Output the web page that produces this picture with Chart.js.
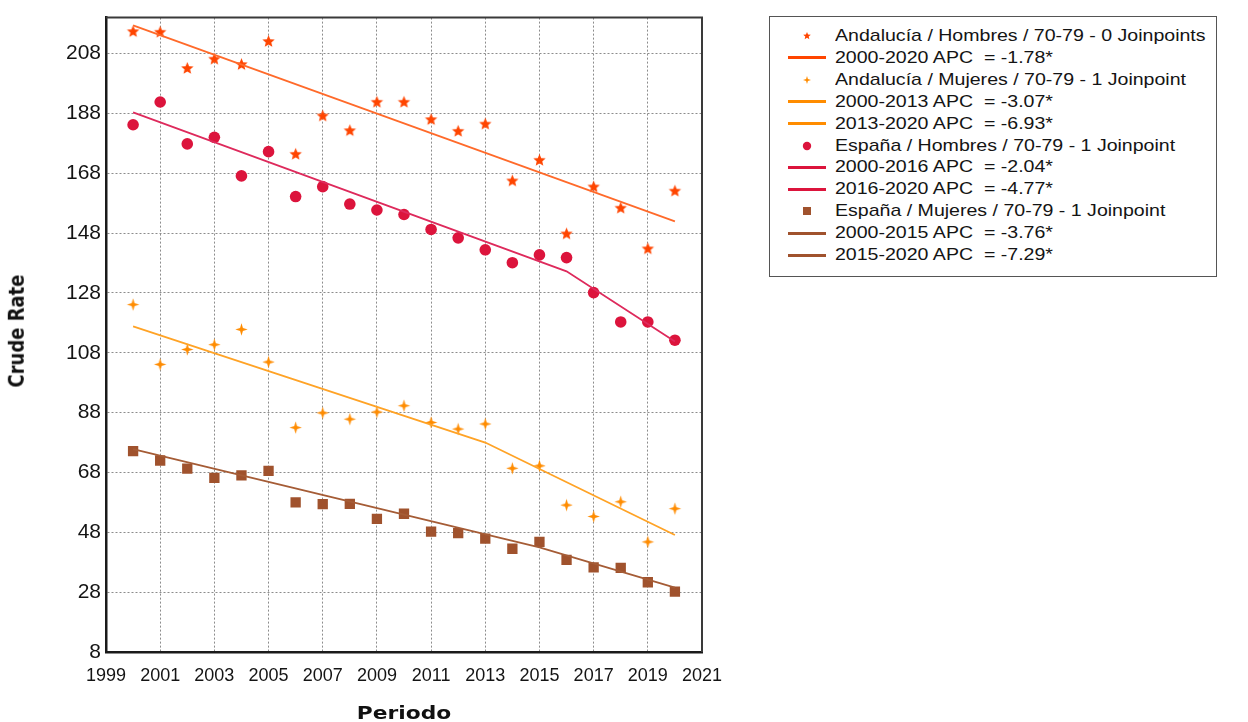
<!DOCTYPE html>
<html>
<head>
<meta charset="utf-8">
<script src="https://cdn.jsdelivr.net/npm/chart.js@4.4.1/dist/chart.umd.min.js"></script>
<style>
    body { margin:0; background:#fff; width:1248px; height:722px; overflow:hidden; position:relative;
           font-family:'Liberation Sans', Arial, sans-serif; }
    #wrap { position:absolute; left:0; top:0; width:1248px; height:722px; }
    #legend { position:absolute; left:769px; top:16px; width:448px; height:261px;
              border:1.5px solid #555; box-sizing:border-box; background:#fff; }
    .row { position:absolute; left:0; width:100%; height:22px; }
    .row .txt { position:absolute; left:65px; top:0; line-height:22px; font-size:17px; color:#141414;
                white-space:pre; transform:scaleX(1.15); transform-origin:0 50%; }
    .row .line { position:absolute; left:18px; top:9.5px; width:38px; height:3px; }
    .row canvas { position:absolute; left:31px; top:5px; }
    .axis-title { position:absolute; font-family:'DejaVu Sans', Verdana, sans-serif; font-weight:bold;
                  font-size:17px; color:#111; white-space:pre; line-height:20px; }
    #xTitle { left:404px; top:703px; transform:translateX(-50%) scaleX(1.28); }
    #yTitle { left:17px; top:331px; font-size:18px; transform:translate(-50%, -50%) rotate(-90deg) scaleY(1.2); }
</style>
</head>
<body>
<div id="wrap"><canvas id="myChart" width="1248" height="722"></canvas></div>
<div id="legend"></div>
<div class="axis-title" id="xTitle">Periodo</div>
<div class="axis-title" id="yTitle">Crude Rate</div>

<script>
// ============================================================
// Crude rate 70-79, Andalucía vs España, with joinpoint fits
// ============================================================

const years = [2000, 2001, 2002, 2003, 2004, 2005, 2006, 2007, 2008, 2009, 2010,
               2011, 2012, 2013, 2014, 2015, 2016, 2017, 2018, 2019, 2020];

const andHombres = [215.3, 215.1, 203.0, 206.1, 204.3, 212.0, 174.3, 187.1, 182.2, 191.7, 191.7,
                    185.9, 182.0, 184.4, 165.4, 172.3, 147.7, 163.4, 156.3, 142.7, 162.0];
const andMujeres = [124.1, 104.1, 109.1, 110.7, 115.8, 104.9, 83.0, 87.9, 85.8, 88.2, 90.3,
                    84.7, 82.5, 84.2, 69.4, 70.2, 57.1, 53.3, 58.2, 44.8, 55.9];
const espHombres = [184.2, 191.8, 177.8, 180.0, 167.1, 175.2, 160.2, 163.5, 157.7, 155.7, 154.2,
                    149.2, 146.4, 142.4, 138.1, 140.7, 139.8, 128.1, 118.3, 118.3, 112.2];
const espMujeres = [75.1, 72.0, 69.3, 66.2, 67.0, 68.5, 58.0, 57.4, 57.5, 52.5, 54.2,
                    48.2, 47.7, 45.9, 42.5, 44.8, 38.8, 36.3, 36.1, 31.3, 28.2];

// fitted segments: start, joinpoint(s), end
const andHombresFitYears = [2000, 2020];
const andHombresFit      = [217.4, 151.9];
const andMujeresFitYears = [2000, 2013, 2020];
const andMujeresFit      = [116.8, 78.0, 47.1];
const espHombresFitYears = [2000, 2016, 2020];
const espHombresFit      = [188.3, 135.2, 111.8];
const espMujeresFitYears = [2000, 2015, 2020];
const espMujeresFit      = [75.8, 43.0, 29.5];

const xTicks = [1999, 2001, 2003, 2005, 2007, 2009, 2011, 2013, 2015, 2017, 2019, 2021];
const yTicks = [8, 28, 48, 68, 88, 108, 128, 148, 168, 188, 208];

const legendRows = [
    ['mark', 'star5', '#FF4500', 'Andalucía / Hombres / 70-79 - 0 Joinpoints'],
    ['line', null,    '#FF4500', '2000-2020 APC  = -1.78*'],
    ['mark', 'star4', '#FF8C00', 'Andalucía / Mujeres / 70-79 - 1 Joinpoint'],
    ['line', null,    '#FF8C00', '2000-2013 APC  = -3.07*'],
    ['line', null,    '#FF8C00', '2013-2020 APC  = -6.93*'],
    ['mark', 'circle','#DC143C', 'España / Hombres / 70-79 - 1 Joinpoint'],
    ['line', null,    '#DC143C', '2000-2016 APC  = -2.04*'],
    ['line', null,    '#DC143C', '2016-2020 APC  = -4.77*'],
    ['mark', 'square','#A0522D', 'España / Mujeres / 70-79 - 1 Joinpoint'],
    ['line', null,    '#A0522D', '2000-2015 APC  = -3.76*'],
    ['line', null,    '#A0522D', '2015-2020 APC  = -7.29*']
];

// --- marker images ------------------------------------------------
function starImage(points, outer, inner, color) {
    const size = Math.ceil(outer * 2) + 2;
    const c = document.createElement('canvas');
    c.width = c.height = size;
    const g = c.getContext('2d');
    g.fillStyle = color;
    g.beginPath();
    for (let i = 0; i < points * 2; i++) {
        const r = i % 2 ? inner : outer;
        const a = -Math.PI / 2 + i * Math.PI / points;
        g.lineTo(size / 2 + r * Math.cos(a), size / 2 + r * Math.sin(a));
    }
    g.closePath();
    g.fill();
    return c;
}

function markCanvas(kind, color) {
    const c = document.createElement('canvas');
    c.width = c.height = 12;
    const g = c.getContext('2d');
    g.fillStyle = color;
    if (kind === 'star5' || kind === 'star4') {
        const img = kind === 'star5' ? starImage(5, 4, 1.8, color) : starImage(4, 4, 1.3, color);
        g.drawImage(img, 6 - img.width / 2, 6 - img.height / 2);
    } else if (kind === 'circle') {
        g.beginPath(); g.arc(6, 6, 4.2, 0, Math.PI * 2); g.fill();
    } else {
        g.fillRect(2, 2, 8, 8);
    }
    return c;
}

const starOrange  = starImage(5, 6.5, 2.9, '#FF4500');
const star4Orange = starImage(4, 6.2, 2.0, '#FF8C00');

// --- legend ------------------------------------------------------
const lg = document.getElementById('legend');
legendRows.forEach((r, i) => {
    const row = document.createElement('div');
    row.className = 'row';
    row.style.top = (8 + i * 21.9) + 'px';
    if (r[0] === 'mark') {
        row.appendChild(markCanvas(r[1], r[2]));
    } else {
        const ln = document.createElement('div');
        ln.className = 'line';
        ln.style.background = r[2];
        row.appendChild(ln);
    }
    const t = document.createElement('span');
    t.className = 'txt';
    t.textContent = r[3];
    row.appendChild(t);
    lg.appendChild(row);
});

// --- chart -------------------------------------------------------
const pts = (xs, ys) => xs.map((x, i) => ({ x: x, y: ys[i] }));

const frame = {
    id: 'frame',
    afterDraw(chart) {
        const { ctx, chartArea: a } = chart;
        ctx.save();
        ctx.strokeStyle = '#3a3a3a';
        ctx.lineWidth = 2;
        ctx.beginPath();
        ctx.moveTo(a.left, a.top);
        ctx.lineTo(a.right, a.top);
        ctx.lineTo(a.right, a.bottom);
        ctx.stroke();
        ctx.restore();
    }
};

const lineSet = (data, color) => ({
    data: data, showLine: true, borderColor: color, borderWidth: 1.8,
    pointRadius: 0, fill: false, tension: 0
});

const gridOpts = { color: '#8c8c8c', lineWidth: 1, drawTicks: false };
const borderOpts = { color: '#1a1a1a', width: 2.5, dash: [2, 2] };

new Chart(document.getElementById('myChart'), {
    type: 'scatter',
    data: {
        datasets: [
            lineSet(pts(andHombresFitYears, andHombresFit), '#FF6A2A'),
            lineSet(pts(andMujeresFitYears, andMujeresFit), '#FFA326'),
            lineSet(pts(espHombresFitYears, espHombresFit), '#DE2A5C'),
            lineSet(pts(espMujeresFitYears, espMujeresFit), '#A55C36'),
            { data: pts(years, andHombres), pointStyle: starOrange, pointRadius: 6 },
            { data: pts(years, andMujeres), pointStyle: star4Orange, pointRadius: 6 },
            { data: pts(years, espHombres), pointStyle: 'circle', pointRadius: 5.8,
              backgroundColor: '#DC143C', borderColor: '#DC143C', borderWidth: 0 },
            { data: pts(years, espMujeres), pointStyle: 'rect', pointRadius: 7.3,
              backgroundColor: '#A0522D', borderColor: '#A0522D', borderWidth: 0 }
        ]
    },
    options: {
        responsive: false,
        animation: false,
        events: [],
        layout: { padding: { left: 0, top: 16, right: 546, bottom: 0 } },
        plugins: { legend: { display: false }, tooltip: { enabled: false } },
        scales: {
            x: {
                type: 'linear', min: 1999, max: 2021,
                afterBuildTicks: s => { s.ticks = xTicks.map(v => ({ value: v })); },
                afterFit: s => { s.height = 70; },
                grid: gridOpts,
                border: borderOpts,
                ticks: { color: '#141414', padding: 13, maxRotation: 0, autoSkip: false,
                         font: { family: "'Liberation Sans', Arial", size: 18 },
                         callback: v => String(v) }
            },
            y: {
                min: 8, max: 220,
                afterBuildTicks: s => { s.ticks = yTicks.map(v => ({ value: v })); },
                afterFit: s => { s.width = 106; },
                grid: gridOpts,
                border: borderOpts,
                ticks: { color: '#141414', padding: 5,
                         font: { family: "'Liberation Sans', Arial", size: 21 } }
            }
        }
    },
    plugins: [frame]
});
</script>
</body>
</html>
